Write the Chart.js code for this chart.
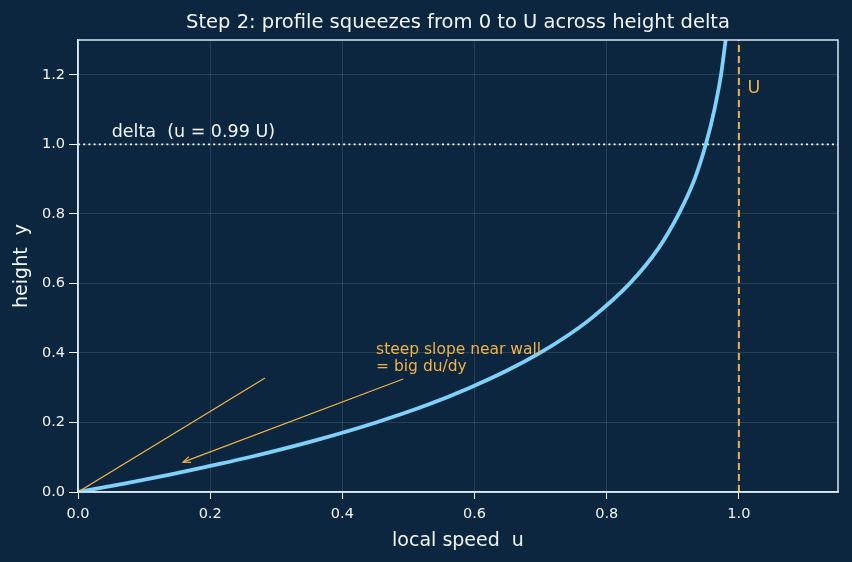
<!DOCTYPE html>
<html>
<head>
<meta charset="utf-8">
<script src="https://cdn.jsdelivr.net/npm/chart.js@4/dist/chart.umd.min.js"></script>
<style>
  html, body { margin: 0; padding: 0; background: #0b263e; }
  #wrap { width: 852px; height: 562px; }
</style>
</head>
<body>
<div id="wrap"><canvas id="profile" width="852" height="562"></canvas></div>
<script>
// velocity profile: height y -> local speed u
const heightY = [0, 0.025, 0.05, 0.075, 0.1, 0.15, 0.2, 0.25, 0.3, 0.35, 0.4, 0.45, 0.5, 0.6, 0.7, 0.8, 0.9, 1.0, 1.1, 1.2, 1.3];
const speedU  = [0, 0.072, 0.139, 0.200, 0.259, 0.362, 0.451, 0.528, 0.593, 0.650, 0.699, 0.741, 0.777, 0.835, 0.878, 0.909, 0.933, 0.950, 0.963, 0.973, 0.980];

const xTicks = [0, 0.2, 0.4, 0.6, 0.8, 1.0];
const yTicks = [0, 0.2, 0.4, 0.6, 0.8, 1.0, 1.2];

const deltaU = [0, 1.15], deltaY = [1, 1];
const wallU = [1, 1], wallY = [0, 1.3];
const tangentU = [0, 0.283], tangentY = [0, 0.328];
const arrowU = [0.492, 0.159], arrowY = [0.325, 0.086];

const ORANGE = "#f0b24a";
const CURVE = "#7fd1fa";
const FG = "#f2f6fa";
const FONT = "'DejaVu Sans', sans-serif";

const pts = (xs, ys) => xs.map((x, i) => ({ x: x, y: ys[i] }));

const overlay = {
  id: "overlay",
  afterDatasetsDraw(chart) {
    const { ctx, chartArea: a, scales: { x, y } } = chart;
    ctx.save();
    // frame
    ctx.strokeStyle = "#d6e7f5";
    ctx.lineWidth = 1.5;
    ctx.strokeRect(a.left, a.top, a.right - a.left, a.bottom - a.top);

    // arrow head
    const x0 = x.getPixelForValue(arrowU[0]), y0 = y.getPixelForValue(arrowY[0]);
    const x1 = x.getPixelForValue(arrowU[1]), y1 = y.getPixelForValue(arrowY[1]);
    const ang = Math.atan2(y1 - y0, x1 - x0);
    ctx.strokeStyle = ORANGE;
    ctx.lineWidth = 1.2;
    ctx.beginPath();
    ctx.moveTo(x1 - 8 * Math.cos(ang - 0.4), y1 - 8 * Math.sin(ang - 0.4));
    ctx.lineTo(x1, y1);
    ctx.lineTo(x1 - 8 * Math.cos(ang + 0.4), y1 - 8 * Math.sin(ang + 0.4));
    ctx.stroke();

    // text labels
    ctx.textBaseline = "alphabetic";
    ctx.textAlign = "left";
    ctx.fillStyle = ORANGE;
    ctx.font = "15.5px " + FONT;
    ctx.fillText("steep slope near wall", x.getPixelForValue(0.451), 354);
    ctx.fillText("= big du/dy", x.getPixelForValue(0.451), 371);

    ctx.font = "17.5px " + FONT;
    ctx.fillText("U", x.getPixelForValue(1.013), 93);

    ctx.fillStyle = FG;
    ctx.font = "17.5px " + FONT;
    ctx.fillText("delta  (u = 0.99 U)", x.getPixelForValue(0.051), 137);

    ctx.textAlign = "center";
    ctx.font = "19.5px " + FONT;
    ctx.fillText("Step 2: profile squeezes from 0 to U across height delta", (a.left + a.right) / 2, 28);
    ctx.restore();
  }
};

new Chart(document.getElementById("profile"), {
  type: "scatter",
  data: {
    datasets: [
      { data: pts(deltaU, deltaY), showLine: true, borderColor: FG, borderWidth: 1.8, borderDash: [2, 3.2], pointRadius: 0 },
      { data: pts(tangentU, tangentY), showLine: true, borderColor: ORANGE, borderWidth: 1.2, pointRadius: 0 },
      { data: pts(arrowU, arrowY), showLine: true, borderColor: ORANGE, borderWidth: 1.2, pointRadius: 0 },
      { data: pts(speedU, heightY), showLine: true, borderColor: CURVE, borderWidth: 3.8, pointRadius: 0, cubicInterpolationMode: "monotone" },
      { data: pts(wallU, wallY), showLine: true, borderColor: ORANGE, borderWidth: 2, borderDash: [7, 4], pointRadius: 0 }
    ]
  },
  options: {
    responsive: false,
    animation: false,
    layout: { padding: { top: 40, right: 14, left: 0, bottom: 0 } },
    plugins: { legend: { display: false }, tooltip: { enabled: false } },
    scales: {
      x: {
        type: "linear", min: 0, max: 1.15,
        afterBuildTicks: s => { s.ticks = xTicks.map(v => ({ value: v })); },
        afterFit: s => { s.height = 70; },
        ticks: { color: FG, font: { family: FONT, size: 14.5 }, padding: 7, callback: v => v.toFixed(1) },
        grid: { color: "rgba(255,255,255,0.12)", tickColor: FG, tickLength: 7 },
        border: { color: FG, width: 1.5 },
        title: { display: true, text: "local speed  u", color: FG, font: { family: FONT, size: 19 }, padding: { top: 0, bottom: 10 } }
      },
      y: {
        type: "linear", min: 0, max: 1.3,
        afterBuildTicks: s => { s.ticks = yTicks.map(v => ({ value: v })); },
        afterFit: s => { s.width = 78; },
        ticks: { color: FG, font: { family: FONT, size: 14.5 }, padding: 4, callback: v => v.toFixed(1) },
        grid: { color: "rgba(255,255,255,0.12)", tickColor: FG, tickLength: 9 },
        border: { color: FG, width: 1.5 },
        title: { display: true, text: "height  y", color: FG, font: { family: FONT, size: 19 }, padding: { top: 11, bottom: 0 } }
      }
    }
  },
  plugins: [overlay]
});
</script>
</body>
</html>
